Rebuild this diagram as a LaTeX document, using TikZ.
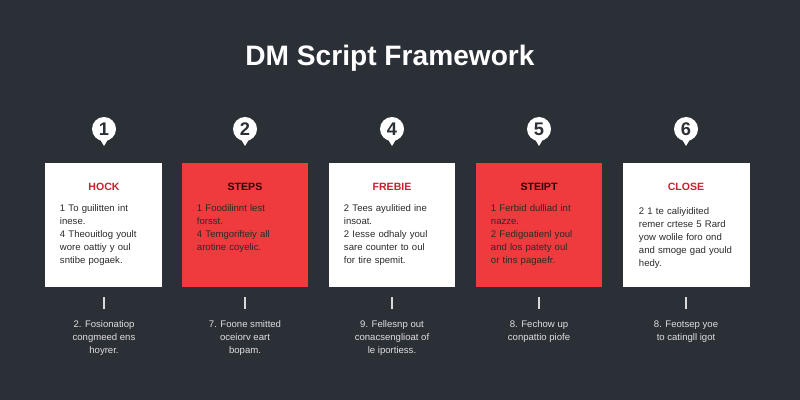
\documentclass[tikz,border=0pt]{standalone}
\usepackage{fontspec}
\setmainfont{Liberation Sans}
\usetikzlibrary{positioning}
\definecolor{bgdark}{HTML}{2B2F36}
\definecolor{cardred}{HTML}{EF3B3D}
\definecolor{headred}{HTML}{C8202E}
\definecolor{bodygray}{HTML}{2A2A2A}

\begin{document}
\begin{tikzpicture}[x=0.025cm,y=-0.025cm,
  card/.style={draw=none,minimum width=3.15cm,minimum height=3.1cm,inner sep=0pt},
  badge/.style={circle,fill=white,minimum size=0.6cm,inner sep=0pt,font=\bfseries\fontsize{13}{13}\selectfont,text=bgdark},
  head/.style={font=\bfseries\fontsize{7.5}{9}\selectfont},
  body/.style={font=\fontsize{6.8}{9.2}\selectfont,text=bodygray,align=left,text width=2.6cm},
  foot/.style={font=\fontsize{6.8}{9.2}\selectfont,text=white!88!black,align=center},
  tick/.style={draw=white!85!black,thick}]
  % Background
  \fill[bgdark] (0,0) rectangle (800,400);
  \useasboundingbox (0,0) rectangle (800,400);

  % Title
  \node[text=white,font=\bfseries\fontsize{20}{20}\selectfont] (title) at (390,58) {DM Script Framework};

  % Cards
  \node[card,fill=white,minimum width=2.93cm] (c1) at (103.5,225) {};
  \node[card,fill=cardred]  (c2) at (245,225) {};
  \node[card,fill=white]    (c3) at (392,225) {};
  \node[card,fill=cardred]  (c4) at (539,225) {};
  \node[card,fill=white]    (c5) at (686.5,225) {};

  % Badges
  \foreach \n/\num/\xx in {1/1/104,2/2/245,3/4/392,4/5/539,5/6/686} {
    \fill[white] (\xx-6,136) -- (\xx,146) -- (\xx+6,136) -- cycle;
    \node[badge] (b\n) at (\xx,129) {\num};
  }

  % Headings
  \node[head,text=headred] (h1) at (104,187) {HOCK};
  \node[head,text=black!80!red] (h2) at (245,187) {STEPS};
  \node[head,text=headred] (h3) at (392,187) {FREBIE};
  \node[head,text=black!80!red] (h4) at (539,187) {STEIPT};
  \node[head,text=headred] (h5) at (686,187) {CLOSE};

  % Body texts
  \node[body,anchor=north west] (t1) at (55,200) {1 To guilitten int\\ inese.\\ 4 Theouitlog yoult\\ wore oattiy y oul\\ sntibe pogaek.};
  \node[body,anchor=north west] (t2) at (192,200) {1 Foodilinnt lest\\ forsst.\\ 4 Temgorifteiy all\\ arotine coyelic.};
  \node[body,anchor=north west] (t3) at (339,200) {2 Tees ayulitied ine\\ insoat.\\ 2 Iesse odhaly youl\\ sare counter to oul\\ for tire spemit.};
  \node[body,anchor=north west] (t4) at (486,200) {1 Ferbid dulliad int\\ nazze.\\ 2 Fedigoatienl youl\\ and los patety oul\\ or tins pagaefr.};
  \node[body,anchor=north west] (t5) at (634,203) {2 1 te caliyidited\\ remer crtese 5 Rard\\ yow wolile foro ond\\ and smoge gad yould\\ hedy.};

  % Connectors and footers
  \foreach \n/\xx in {1/104,2/245,3/392,4/539,5/686} {
    \coordinate (k\n) at (\xx,297);
    \coordinate (m\n) at (\xx,309);
    \draw[tick] (k\n) -- (m\n);
  }
  \node[foot,below=5pt of m1] (f1) {2. Fosionatiop\\ congmeed ens\\ hoyrer.};
  \node[foot,below=5pt of m2] (f2) {7. Foone smitted\\ oceiorv eart\\ bopam.};
  \node[foot,below=5pt of m3] (f3) {9. Fellesnp out\\ conacsenglioat of\\ le iportiess.};
  \node[foot,below=5pt of m4] (f4) {8. Fechow up\\ conpattio piofe};
  \node[foot,below=5pt of m5] (f5) {8. Feotsep yoe\\ to catingll igot};
\end{tikzpicture}
\end{document}
